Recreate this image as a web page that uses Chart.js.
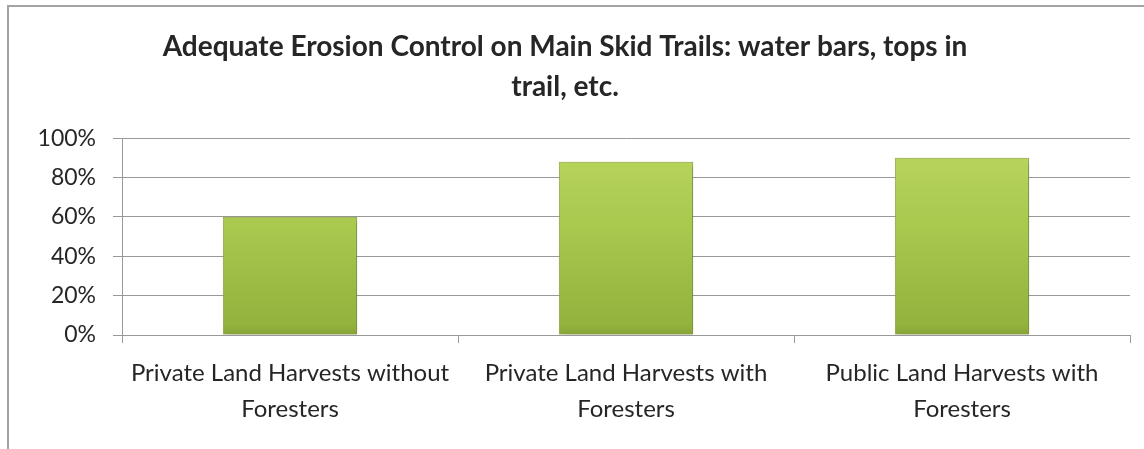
<!DOCTYPE html>
<html>
<head>
<meta charset="utf-8">
<script src="https://cdn.jsdelivr.net/npm/chart.js@4.4.1/dist/chart.umd.min.js"></script>
<style>
  html, body { margin: 0; padding: 0; background: #fff; }
  #wrap { position: relative; width: 1144px; height: 449px; overflow: hidden; }
  #frame { position: absolute; left: 7px; top: 5px; width: 1200px; height: 500px;
           border-left: 2px solid #a3a3a3; border-top: 2px solid #a3a3a3; pointer-events: none; }
  canvas { position: absolute; left: 0; top: 0; }
</style>
</head>
<body>
<div id="wrap">
  <canvas id="c" width="1144" height="449"></canvas>
  <div id="frame"></div>
</div>
<script>
const titleLines = ["Adequate Erosion Control on Main Skid Trails: water bars, tops in", "trail, etc."];
const categories = [
  ["Private Land Harvests without", "Foresters"],
  ["Private Land Harvests with", "Foresters"],
  ["Public Land Harvests with", "Foresters"]
];
const values = [60, 88, 90];
const yTicks = [0, 20, 40, 60, 80, 100];

const FONT = "Lato, 'Open Sans', sans-serif";

function barGradient(ctx) {
  const chart = ctx.chart;
  const area = chart.chartArea;
  if (!area) return '#a6c64c';
  const el = ctx.element;
  let top = area.top, bottom = area.bottom;
  if (el && el.y !== undefined && el.base !== undefined) { top = el.y; bottom = el.base; }
  const g = chart.ctx.createLinearGradient(0, top, 0, bottom);
  g.addColorStop(0, '#d6e98a');
  g.addColorStop(0.07, '#b8d45c');
  g.addColorStop(0.45, '#a8c84e');
  g.addColorStop(0.95, '#93b23e');
  g.addColorStop(1, '#86a335');
  return g;
}

const shadowPlugin = {
  id: 'barShadow',
  beforeDatasetDraw(chart) {
    const c = chart.ctx;
    c.save();
    c.shadowColor = 'rgba(0,0,0,0.35)';
    c.shadowBlur = 5;
    c.shadowOffsetX = 2;
    c.shadowOffsetY = 2;
  },
  afterDatasetDraw(chart) { chart.ctx.restore(); }
};

new Chart(document.getElementById('c'), {
  type: 'bar',
  data: {
    labels: categories,
    datasets: [{
      data: values,
      backgroundColor: barGradient,
      borderColor: '#8da83c',
      borderWidth: 1,
      categoryPercentage: 0.4,
      barPercentage: 1.0
    }]
  },
  plugins: [shadowPlugin],
  options: {
    responsive: false,
    animation: false,
    events: [],
    layout: { padding: { left: 0, right: 14, top: 0, bottom: 0 } },
    plugins: {
      legend: { display: false },
      tooltip: { enabled: false },
      title: {
        display: true,
        text: titleLines,
        color: '#262626',
        font: { family: FONT, size: 28, weight: 'bold', lineHeight: 1.43 },
        padding: { top: 27, bottom: 31 }
      }
    },
    scales: {
      x: {
        grid: { display: true, offset: true, drawOnChartArea: false, drawTicks: true, tickLength: 8, color: '#999', lineWidth: 1 },
        border: { display: true, color: '#999', width: 1 },
        ticks: { color: '#262626', font: { family: FONT, size: 24, lineHeight: 1.5 }, padding: 12, maxRotation: 0, autoSkip: false },
        afterFit(s) { s.height = 114; }
      },
      y: {
        min: 0, max: 100,
        afterBuildTicks(s) { s.ticks = yTicks.map(v => ({ value: v })); },
        grid: { color: '#999', lineWidth: 1, tickLength: 9, drawTicks: true },
        border: { display: true, color: '#999', width: 1 },
        ticks: { color: '#262626', font: { family: FONT, size: 23 }, padding: 17, callback: v => v + '%' },
        afterFit(s) { s.width = 122; }
      }
    }
  }
});
</script>
</body>
</html>
